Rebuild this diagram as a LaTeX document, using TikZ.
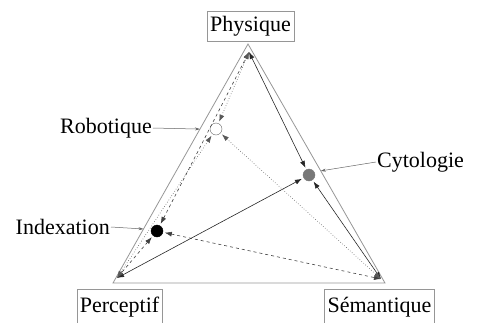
\documentclass[tikz,border=0pt]{standalone}
\usepackage{fontspec}
\setmainfont{Liberation Serif}
\usetikzlibrary{arrows.meta,positioning,calc}
\definecolor{edgegray}{RGB}{150,150,150}
\definecolor{cytogray}{RGB}{120,120,120}

\begin{document}
\begin{tikzpicture}[
  x=1pt, y=-1pt,
  corner/.style={draw=edgegray, inner xsep=3pt, minimum height=30pt, font=\fontsize{22}{26}\selectfont},
  tag/.style={inner sep=1pt, font=\fontsize{22}{26}\selectfont},
  dot/.style={circle, minimum size=12pt, inner sep=0pt, outer sep=2pt},
  link/.style={{Latex[length=7pt,width=5pt]}-{Latex[length=7pt,width=5pt]}, line width=0.6pt},
  ptr/.style={-{Stealth[length=5pt,width=3pt]}, draw=black!60, line width=0.5pt}
]
\useasboundingbox (0,0) rectangle (485,322);

% triangle
\coordinate (tP) at (248,44);
\coordinate (tL) at (113,283);
\coordinate (tR) at (385,283);
\draw[edgegray, line width=0.8pt] (tP) -- (tL) -- (tR) -- cycle;

% poles
\node[corner] (phys) at (250.5,26) {Physique};
\node[corner, minimum height=36pt, anchor=north] (perc) at (119.5,289) {Perceptif};
\node[corner, minimum height=36pt, anchor=north] (sema) at (379.5,289) {Sémantique};

\coordinate (aP) at (249,52);
\coordinate (aL) at (117,278);
\coordinate (aR) at (381,279);

% disciplines
\node[dot, fill=white, draw=black!60] (rob) at (216,129) {};
\node[dot, fill=cytogray, draw=cytogray] (cyt) at (309,175) {};
\node[dot, fill=black, draw=black] (idx) at (157,231) {};

\foreach \c in {aP,aL,aR} {
  \draw[link, black!85] (cyt) -- (\c);
  \draw[link, dashed, black!75] (idx) -- (\c);
  \draw[link, dotted, black!65] (rob) -- (\c);
}

% labels
\coordinate (eR) at ($(tP)!0.356!(tL)$);
\coordinate (eC) at ($(tP)!0.531!(tR)$);
\coordinate (eI) at ($(tP)!0.774!(tL)$);
\node[tag, anchor=east] (robt) at (153,128) {Robotique};
\node[tag, anchor=west] (cytt) at (376,162) {Cytologie};
\node[tag, anchor=east] (idxt) at (111,227) {Indexation};
\draw[ptr] (robt.east) -- (eR);
\draw[ptr] (cytt.west) -- (eC);
\draw[ptr] (idxt.east) -- (eI);
\end{tikzpicture}
\end{document}
